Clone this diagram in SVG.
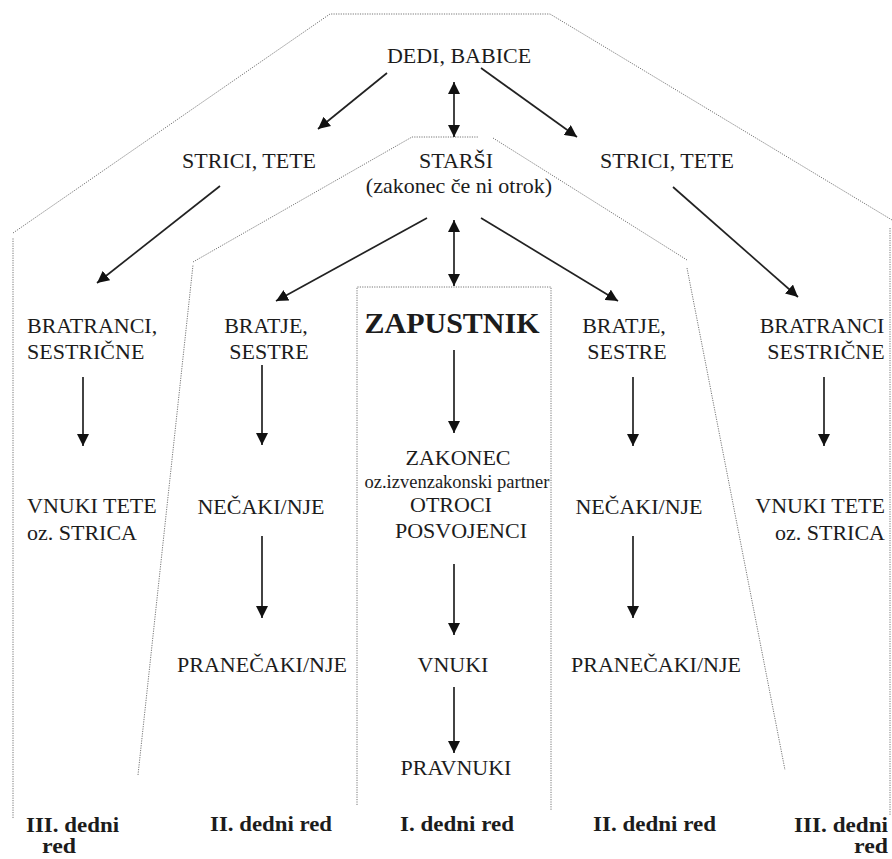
<svg xmlns="http://www.w3.org/2000/svg" width="892" height="859" viewBox="0 0 892 859">
  <defs>
    <marker id="ah" viewBox="0 0 12 12" refX="12" refY="6" markerWidth="12" markerHeight="12" markerUnits="userSpaceOnUse" orient="auto-start-reverse">
      <path d="M0,0 L12,6 L0,12 z" fill="#111"/>
    </marker>
    <style>
      .t { font-family: "Liberation Serif", "Times New Roman", serif; font-size: 22px; fill: #1c1c1c; }
      .m { text-anchor: middle; }
      .e { text-anchor: end; }
      .b { font-weight: bold; }
      .small { font-size: 18.5px; }
      .lbl { font-family: "Liberation Serif", "Times New Roman", serif; font-size: 20px; font-weight: bold; fill: #1c1c1c; }
      .dot { fill: none; stroke: #777; stroke-width: 1; stroke-dasharray: 1.2 1.2; }
      .arr { stroke: #222; stroke-width: 1.7; fill: none; marker-end: url(#ah); }
      .dbl { stroke: #222; stroke-width: 1.7; fill: none; marker-end: url(#ah); marker-start: url(#ah); }
    </style>
  </defs>

  <g id="boundaries">
    <path class="dot" d="M13,818 L13,238 M13,233 L330,14 L550,14 L892,220 M890,228 L890,815"/>
    <path class="dot" d="M138,775 L193,265 M193,262 L412,137 L479,137 M493,138 L687,260 M687,268 L785,770"/>
    <path class="dot" d="M357,805 L357,287 L551,287 L551,810"/>
  </g>

  <g id="connectors">
    <line class="arr" x1="387" y1="73" x2="318" y2="129"/>
    <line class="dbl" x1="454" y1="82" x2="454" y2="137"/>
    <line class="arr" x1="481" y1="68" x2="577" y2="137"/>
    <line class="arr" x1="220" y1="186" x2="97" y2="283"/>
    <line class="arr" x1="427" y1="218" x2="276" y2="301"/>
    <line class="dbl" x1="454" y1="220" x2="454" y2="286"/>
    <line class="arr" x1="481" y1="218" x2="618" y2="301"/>
    <line class="arr" x1="673" y1="187" x2="798" y2="297"/>
    <line class="arr" x1="454" y1="350" x2="454" y2="433"/>
    <line class="arr" x1="454" y1="564" x2="454" y2="635"/>
    <line class="arr" x1="454" y1="687" x2="454" y2="753"/>
    <line class="arr" x1="83" y1="377" x2="83" y2="446"/>
    <line class="arr" x1="262" y1="365" x2="262" y2="445"/>
    <line class="arr" x1="262" y1="536" x2="262" y2="618"/>
    <line class="arr" x1="633" y1="377" x2="633" y2="446"/>
    <line class="arr" x1="633" y1="536" x2="633" y2="618"/>
    <line class="arr" x1="824" y1="377" x2="824" y2="446"/>
  </g>

  <g id="dedi"><text class="t m" x="459" y="63">DEDI, BABICE</text></g>
  <g id="strici-left"><text class="t m" x="249" y="168">STRICI, TETE</text></g>
  <g id="strici-right"><text class="t m" x="667" y="168">STRICI, TETE</text></g>
  <g id="starsi">
    <text class="t m" x="456" y="168">STARŠI</text>
    <text class="t m" x="459" y="193">(zakonec če ni otrok)</text>
  </g>
  <g id="bratranci-left">
    <text class="t" x="27" y="333">BRATRANCI,</text>
    <text class="t" x="27" y="359">SESTRIČNE</text>
  </g>
  <g id="bratje-left">
    <text class="t m" x="266" y="333">BRATJE,</text>
    <text class="t m" x="269" y="359">SESTRE</text>
  </g>
  <g id="zapustnik"><text class="t m b" x="452" y="333" style="font-size:30px">ZAPUSTNIK</text></g>
  <g id="bratje-right">
    <text class="t m" x="624" y="333">BRATJE,</text>
    <text class="t m" x="627" y="359">SESTRE</text>
  </g>
  <g id="bratranci-right">
    <text class="t m" x="822" y="333">BRATRANCI</text>
    <text class="t m" x="826" y="359">SESTRIČNE</text>
  </g>
  <g id="vnuki-tete-left">
    <text class="t" x="27" y="513">VNUKI TETE</text>
    <text class="t" x="27" y="540">oz. STRICA</text>
  </g>
  <g id="necaki-left"><text class="t m" x="261" y="514">NEČAKI/NJE</text></g>
  <g id="zakonec">
    <text class="t m" x="458" y="465">ZAKONEC</text>
    <text class="t m small" x="457" y="488">oz.izvenzakonski partner</text>
    <text class="t m" x="451" y="512">OTROCI</text>
    <text class="t m" x="461" y="538">POSVOJENCI</text>
  </g>
  <g id="necaki-right"><text class="t m" x="639" y="514">NEČAKI/NJE</text></g>
  <g id="vnuki-tete-right">
    <text class="t e" x="885" y="513">VNUKI TETE</text>
    <text class="t e" x="885" y="540">oz. STRICA</text>
  </g>
  <g id="pranecaki-left"><text class="t m" x="262" y="672">PRANEČAKI/NJE</text></g>
  <g id="vnuki"><text class="t m" x="453" y="672">VNUKI</text></g>
  <g id="pranecaki-right"><text class="t m" x="656" y="672">PRANEČAKI/NJE</text></g>
  <g id="pravnuki"><text class="t m" x="456" y="775">PRAVNUKI</text></g>

  <g id="labels">
    <text class="lbl" x="26" y="832" textLength="93" lengthAdjust="spacingAndGlyphs">III. dedni</text>
    <text class="lbl" x="42" y="853" textLength="34" lengthAdjust="spacingAndGlyphs">red</text>
    <text class="lbl" x="210" y="831" textLength="122" lengthAdjust="spacingAndGlyphs">II. dedni red</text>
    <text class="lbl" x="400" y="831" textLength="114" lengthAdjust="spacingAndGlyphs">I. dedni red</text>
    <text class="lbl" x="593" y="831" textLength="123" lengthAdjust="spacingAndGlyphs">II. dedni red</text>
    <text class="lbl" x="794" y="832" textLength="94" lengthAdjust="spacingAndGlyphs">III. dedni</text>
    <text class="lbl" x="854" y="853" textLength="34" lengthAdjust="spacingAndGlyphs">red</text>
  </g>
</svg>
